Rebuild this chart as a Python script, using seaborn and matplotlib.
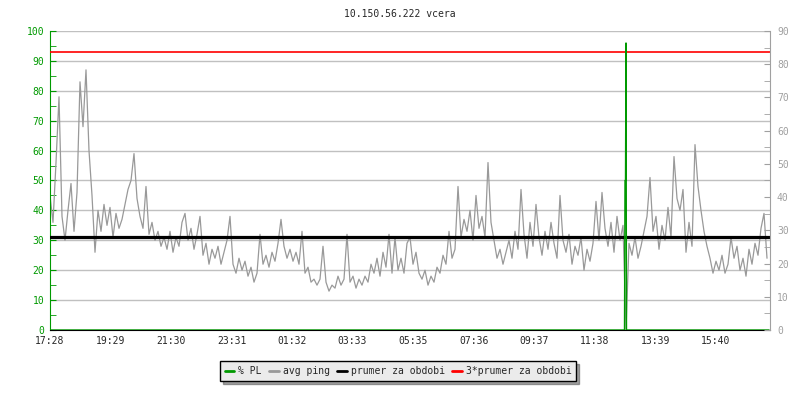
import numpy as np
import matplotlib
matplotlib.use('Agg')
import matplotlib.pyplot as plt
from matplotlib.lines import Line2D
from matplotlib.ticker import MultipleLocator
import seaborn as sns

# avg ping, one sample every 6 minutes from 17:28
ping = [
    45, 36, 56, 78, 38, 30, 40, 49, 33, 46,
    83, 68, 87, 60, 45, 26, 40, 33, 42, 35,
    41, 31, 39, 34, 37, 42, 47, 50, 59, 44,
    38, 34, 48, 32, 36, 30, 33, 28, 31, 27,
    33, 26, 31, 28, 36, 39, 30, 34, 27, 32,
    38, 25, 29, 22, 27, 24, 28, 22, 26, 30,
    38, 22, 19, 24, 20, 23, 18, 21, 16, 19,
    32, 22, 25, 21, 26, 23, 29, 37, 28, 24,
    27, 23, 26, 22, 33, 19, 21, 16, 17, 15,
    17, 28, 16, 13, 15, 14, 18, 15, 17, 32,
    16, 18, 14, 17, 15, 18, 16, 22, 19, 24,
    18, 26, 21, 32, 19, 31, 20, 24, 19, 29,
    31, 22, 26, 19, 17, 20, 15, 18, 16, 21,
    19, 25, 22, 33, 24, 27, 48, 31, 37, 33,
    40, 30, 45, 34, 38, 31, 56, 36, 30, 24,
    27, 22, 26, 30, 24, 33, 27, 47, 32, 24,
    36, 28, 42, 31, 25, 33, 27, 36, 29, 24,
    45, 30, 26, 32, 22, 28, 25, 31, 20, 27,
    23, 29, 43, 30, 46, 34, 28, 36, 26, 38,
    30, 35, 0, 29, 25, 31, 24, 28, 33, 38,
    51, 33, 38, 27, 35, 30, 41, 31, 58, 44,
    40, 47, 26, 36, 28, 62, 48, 40, 33, 28,
    24, 19, 23, 20, 25, 19, 22, 31, 24, 28,
    20, 24, 18, 27, 22, 29, 25, 34, 39, 24,
]
step_min = 6

# % packet loss (zero everywhere except the outage around 12:38)
pl_times = ['17:28', '12:37', '12:38', '12:39', '12:40', '12:41', '17:26']
pl_values = [0, 0, 50, 50, 96, 0, 0]

prumer = 31.0  # prumer za obdobi

tick_labels = ['17:28', '19:29', '21:30', '23:31', '01:32', '03:33',
               '05:35', '07:36', '09:37', '11:38', '13:39', '15:40']
title = '10.150.56.222 vcera'


def to_min(t):
    h, m = t.split(':')
    return (int(h) * 60 + int(m) - (17 * 60 + 28)) % 1440


green = '#009900'
gray = '#999999'
axgray = '#a0a0a0'

sns.set_style('white')
plt.rcParams['font.family'] = ['DejaVu Sans Mono']
plt.rcParams['font.size'] = 7

fig = plt.figure(figsize=(8, 4), dpi=100)
ax = fig.add_axes([0.0625, 0.175, 0.9, 0.7475])

ping_x = np.arange(len(ping)) * step_min
sns.lineplot(x=ping_x, y=ping, ax=ax, color=gray, lw=0.9)
ax.axhline(prumer, color='black', lw=2.3, zorder=4)
ax.axhline(3 * prumer, color='red', lw=1.2, zorder=4)
pl_x = [to_min(t) for t in pl_times[:-1]] + [1438]
sns.lineplot(x=pl_x, y=pl_values, ax=ax, color=green, lw=1.0, zorder=5,
             estimator=None, sort=False)

ax.set_xlim(0, 1440)
ax.set_ylim(0, 100)
ax.yaxis.set_major_locator(MultipleLocator(10))
ax.yaxis.set_minor_locator(MultipleLocator(5))
ax.grid(axis='y', color='#c0c0c0', lw=1)
ax.set_axisbelow(True)
ax.set_xticks([to_min(t) for t in tick_labels])
ax.set_xticklabels(tick_labels)
ax.tick_params(axis='x', direction='in', length=5, color='black', pad=4)
ax.tick_params(axis='y', which='both', direction='in', length=4, color=green,
               labelcolor=green, pad=4)

for s in ['top', 'right']:
    ax.spines[s].set_visible(False)
ax.spines['left'].set_color(green)
ax.spines['bottom'].set_color('black')

ax2 = ax.twinx()
ax2.set_ylim(0, 90)
ax2.yaxis.set_major_locator(MultipleLocator(10))
ax2.yaxis.set_minor_locator(MultipleLocator(5))
ax2.tick_params(axis='y', which='both', direction='in', length=4, color=axgray,
                labelcolor=axgray, pad=5)
for s in ['top', 'left', 'bottom']:
    ax2.spines[s].set_visible(False)
ax2.spines['right'].set_color(axgray)

fig.text(0.5, 0.965, title, ha='center', va='center', fontsize=7)

handles = [Line2D([], [], color=green, lw=2),
           Line2D([], [], color=gray, lw=2),
           Line2D([], [], color='black', lw=2),
           Line2D([], [], color='red', lw=2)]
labels = ['% PL', 'avg ping', 'prumer za obdobi', '3*prumer za obdobi']
leg = fig.legend(handles, labels, loc='center', bbox_to_anchor=(0.4975, 0.072),
                 ncol=4, frameon=True, fancybox=False, shadow=True,
                 handlelength=1.0, handletextpad=0.4, columnspacing=0.75,
                 borderpad=0.5, fontsize=7)
leg.get_frame().set_facecolor('#ebebeb')
leg.get_frame().set_edgecolor('black')
leg.get_frame().set_alpha(1)

fig.savefig('out.png', dpi=100)
